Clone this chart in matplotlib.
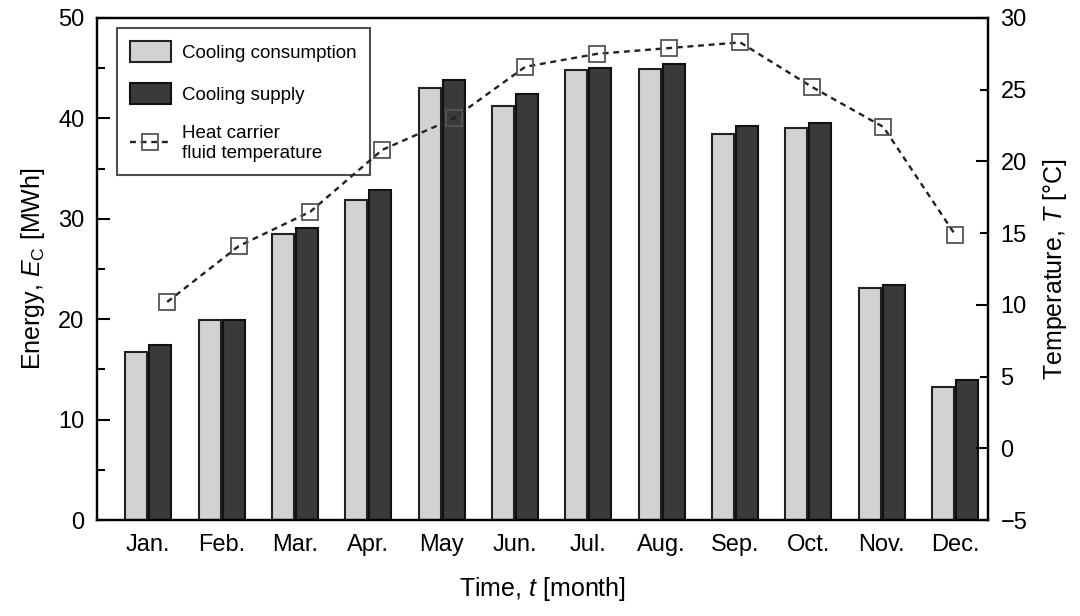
import numpy as np
import matplotlib
matplotlib.use('Agg')
from matplotlib import pyplot as plt
from matplotlib.ticker import MultipleLocator

plt.rcParams['font.family'] = ['Liberation Sans', 'DejaVu Sans']
plt.rcParams['mathtext.fontset'] = 'custom'
plt.rcParams['mathtext.it'] = 'Liberation Sans:italic'
plt.rcParams['mathtext.rm'] = 'Liberation Sans'

# datos
meses = ['Jan.', 'Feb.', 'Mar.', 'Apr.', 'May', 'Jun.', 'Jul.', 'Aug.',
         'Sep.', 'Oct.', 'Nov.', 'Dec.']
consumo = [16.7, 19.9, 28.5, 31.9, 43.0, 41.2, 44.8, 44.9, 38.4, 39.0, 23.1, 13.2]
suministro = [17.4, 19.9, 29.1, 32.9, 43.8, 42.4, 45.0, 45.4, 39.2, 39.5, 23.4, 13.9]
temperatura = [10.2, 14.1, 16.5, 20.8, 23.0, 26.6, 27.5, 27.9, 28.3, 25.2, 22.4, 14.9]

x = np.arange(len(meses))
w = 0.3

fig = plt.figure(figsize=(10.8, 6.16), dpi=100)
pos = [0.0898, 0.1558, 0.825, 0.815]
ax = fig.add_axes(pos)

b1 = ax.bar(x - 0.165, consumo, w, color='#d2d2d2', edgecolor='#222222',
            linewidth=1.5, label='Cooling consumption', zorder=2)
b2 = ax.bar(x + 0.165, suministro, w, color='#3a3a3a', edgecolor='#111111',
            linewidth=1.5, label='Cooling supply', zorder=2)

ax.set_xlim(-0.7, 11.45)
ax.set_ylim(0, 50)
ax.set_xticks(x)
ax.set_xticklabels(meses)
ax.tick_params(axis='x', length=0, pad=10, labelsize=17)
ax.yaxis.set_major_locator(MultipleLocator(10))
ax.yaxis.set_minor_locator(MultipleLocator(5))
ax.tick_params(axis='y', which='major', direction='in', length=9, width=1.5,
               pad=9, labelsize=17)
ax.tick_params(axis='y', which='minor', direction='in', length=6, width=1.5)
for s in ax.spines.values():
    s.set_linewidth(1.6)
ax.set_ylabel(r'Energy, $\mathit{E}_\mathrm{C}$ [MWh]', fontsize=18, labelpad=8)
ax.set_xlabel(r'Time, $\mathit{t}$ [month]', fontsize=18, labelpad=14)

# eje derecho de temperatura
ax2 = ax.twinx()
ax2.set_ylim(-5, 30)
ax2.set_yticks(np.arange(-5, 31, 5), minor=True)
ax2.set_yticks(np.arange(0, 31, 10))
ax2.yaxis.set_minor_formatter(plt.FuncFormatter(lambda v, p: '%d' % v if v >= 0 else '\u2212%d' % -v))
ax2.tick_params(axis='y', which='major', direction='in', length=9, width=1.5,
                pad=9, labelsize=17)
ax2.tick_params(axis='y', which='minor', direction='in', length=6, width=1.5,
                pad=9, labelsize=17)
ax2.set_ylabel(r'Temperature, $\mathit{T}$ [°C]', fontsize=18, labelpad=10)
for s in ax2.spines.values():
    s.set_linewidth(1.6)

# la curva de temperatura usa su propia escala horizontal
ax3 = fig.add_axes(pos, frameon=False)
ax3.set_xlim(-0.98, 11.46)
ax3.set_ylim(-5, 30)
ax3.axis('off')
l1, = ax3.plot(x, temperatura, ls=(0, (2.5, 2)), color='#222222', lw=1.7,
               marker='s', ms=12, mfc='none', mec='#555555', mew=1.3,
               label='Heat carrier\nfluid temperature')

leg = ax.legend([b1, b2, l1], ['Cooling consumption', 'Cooling supply',
                               'Heat carrier\nfluid temperature'],
                loc='upper left', bbox_to_anchor=(0.022, 0.98), fontsize=13.5,
                frameon=True, fancybox=False, edgecolor='#222222',
                handlelength=2.2, handleheight=1.3, labelspacing=1.15,
                borderpad=0.7, handletextpad=0.6, borderaxespad=0)
leg.get_frame().set_linewidth(1.5)
leg.set_zorder(10)

plt.savefig('out.png', dpi=100)
